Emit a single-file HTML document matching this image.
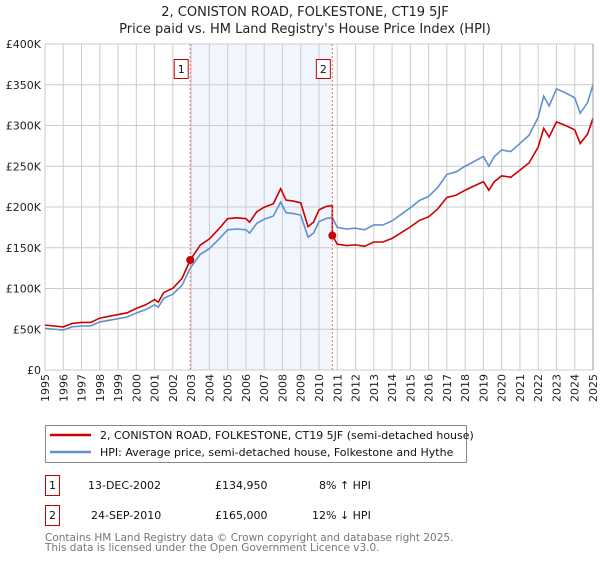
<!DOCTYPE html>
<html><head><meta charset="utf-8"><style>
body{margin:0;background:#fff;font-family:"DejaVu Sans","Liberation Sans",sans-serif;}
svg text{font-family:"DejaVu Sans","Liberation Sans",sans-serif;}
</style></head><body>
<svg id="chart" width="600" height="560" xmlns="http://www.w3.org/2000/svg">
<text x="305" y="16" text-anchor="middle" font-size="13" fill="#222">2, CONISTON ROAD, FOLKESTONE, CT19 5JF</text>
<text x="305" y="33" text-anchor="middle" font-size="13" fill="#222">Price paid vs. HM Land Registry's House Price Index (HPI)</text>
<g id="plot"></g>
<rect x="45.5" y="425.5" width="421" height="37" fill="#fff" stroke="#888"/>
<line x1="50" y1="435" x2="91" y2="435" stroke="#cc0000" stroke-width="2.5"/>
<text x="100" y="439" font-size="11" fill="#111">2, CONISTON ROAD, FOLKESTONE, CT19 5JF (semi-detached house)</text>
<line x1="50" y1="452" x2="91" y2="452" stroke="#6090d0" stroke-width="2.5"/>
<text x="100" y="456" font-size="11" fill="#111">HPI: Average price, semi-detached house, Folkestone and Hythe</text>
<g font-size="11" fill="#111">
<rect x="45.5" y="475.5" width="14" height="20" fill="#fff" stroke="#cc0000"/>
<text x="52.5" y="489" text-anchor="middle">1</text>
<text x="88" y="489">13-DEC-2002</text><text x="215" y="489">£134,950</text><text x="319" y="489">8% ↑ HPI</text></g>
<g font-size="11" fill="#111">
<rect x="45.5" y="505.5" width="14" height="20" fill="#fff" stroke="#cc0000"/>
<text x="52.5" y="519" text-anchor="middle">2</text>
<text x="91" y="519">24-SEP-2010</text><text x="215" y="519">£165,000</text><text x="312" y="519">12% ↓ HPI</text></g>
<text x="45" y="541" font-size="10.5" fill="#777">Contains HM Land Registry data © Crown copyright and database right 2025.</text>
<text x="45" y="551" font-size="10.5" fill="#777">This data is licensed under the Open Government Licence v3.0.</text>
</svg>
<script>
const hpiYears=[1995,1995.5,1996,1996.5,1997,1997.5,1998,1998.5,1999,1999.5,2000,2000.5,2001,2001.2,2001.5,2002,2002.5,2002.95,2003.5,2004,2004.5,2005,2005.5,2006,2006.2,2006.6,2007,2007.5,2007.9,2008.2,2008.6,2009,2009.4,2009.7,2010,2010.4,2010.73,2011,2011.5,2012,2012.5,2013,2013.5,2014,2014.5,2015,2015.5,2016,2016.5,2017,2017.5,2018,2018.5,2019,2019.3,2019.6,2020,2020.5,2021,2021.5,2022,2022.3,2022.6,2023,2023.5,2024,2024.3,2024.7,2025];
const hpiValues=[51000,50000,49000,53000,54000,54000,59000,61000,63000,65000,70000,74000,80000,77000,88000,93000,104000,125000,142000,149000,160000,172000,173000,172000,168000,180000,185000,189000,206000,193000,192000,190000,163000,168000,182000,186000,187000,175000,173000,174000,172000,178000,178000,183000,191000,199000,208000,213000,224000,240000,243000,250000,256000,262000,250000,262000,270000,268000,278000,288000,310000,336000,324000,345000,340000,334000,315000,328000,350000];
const saleDates=[2002.95,2010.73];
const salePrices=[134950,165000];
const yTicks=[0,50000,100000,150000,200000,250000,300000,350000,400000];
const yTickLabels=["£0","£50K","£100K","£150K","£200K","£250K","£300K","£350K","£400K"];
const xTicks=[1995,1996,1997,1998,1999,2000,2001,2002,2003,2004,2005,2006,2007,2008,2009,2010,2011,2012,2013,2014,2015,2016,2017,2018,2019,2020,2021,2022,2023,2024,2025];

const X0=45,X1=593,Y0=370,Y1=44;
const xs=t=>X0+(t-1995)/30*(X1-X0);
const ys=v=>Y0-v/400000*(Y0-Y1);
const NS="http://www.w3.org/2000/svg";
const g=document.getElementById('plot');
function mk(tag,attrs,parent){const e=document.createElementNS(NS,tag);for(const k in attrs)e.setAttribute(k,attrs[k]);(parent||g).appendChild(e);return e;}
function hpiAt(t){for(let i=1;i<hpiYears.length;i++){if(t<=hpiYears[i]){const a=hpiYears[i-1],b=hpiYears[i];const f=(t-a)/(b-a);return hpiValues[i-1]+f*(hpiValues[i]-hpiValues[i-1]);}}return hpiValues[hpiValues.length-1];}

const shade=mk('rect',{x:xs(saleDates[0]),y:Y1,width:xs(saleDates[1])-xs(saleDates[0]),height:Y0-Y1,fill:'#eef3fc',opacity:0.8});


xTicks.forEach(t=>{
 const l=mk('line',{x1:xs(t),x2:xs(t),y1:Y1,y2:Y0,stroke:'#ccc'});
 
 
 const tx=mk('text',{transform:`translate(${xs(t)+4},${Y0+4}) rotate(-90)`,'text-anchor':'end','font-size':11,fill:'#222'});
 tx.textContent=t;
 
 
});
yTicks.forEach((v,i)=>{
 const l=mk('line',{x1:X0,x2:X1,y1:ys(v),y2:ys(v),stroke:'#ccc'});
 
 
 const tx=mk('text',{x:X0-4,y:ys(v)+4,'text-anchor':'end','font-size':11,fill:'#222'});
 tx.textContent=yTickLabels[i];
 
 
});
// HPI line
const hp=mk('polyline',{points:hpiYears.map((t,i)=>xs(t)+','+ys(hpiValues[i])).join(' '),fill:'none',stroke:'#6090d0','stroke-width':1.6});


// Price line indexed to HPI from each sale
const pts=[];
const r0=salePrices[0]/hpiAt(saleDates[0]),r1=salePrices[1]/hpiAt(saleDates[1]);
hpiYears.forEach((t,i)=>{if(t<saleDates[1])pts.push([t,hpiValues[i]*r0]);});
pts.push([saleDates[1],hpiAt(saleDates[1])*r0]);
pts.push([saleDates[1],salePrices[1]]);
hpiYears.forEach((t,i)=>{if(t>saleDates[1])pts.push([t,hpiValues[i]*r1]);});
const pl=mk('polyline',{points:pts.map(p=>xs(p[0])+','+ys(p[1])).join(' '),fill:'none',stroke:'#cc0000','stroke-width':1.6});


saleDates.forEach((t,i)=>{
 const vl=mk('line',{x1:xs(t),x2:xs(t),y1:Y1,y2:Y0,stroke:'#f07070','stroke-dasharray':'2,2'});
 
 
 const b=mk('rect',{x:xs(t)-16,y:59.5,width:14,height:19,fill:'#fff',stroke:'#cc0000'});
 
 
 const bt=mk('text',{x:xs(t)-9,y:73,'text-anchor':'middle','font-size':11,fill:'#111'});
 bt.textContent=String(i+1);
 
 
 const c=mk('circle',{cx:xs(t),cy:ys(salePrices[i]),r:4,fill:'#cc0000'});
 
 
});
const ax=mk('line',{x1:X1,x2:X1,y1:Y1,y2:Y0,stroke:'#999'});


</script>
</body></html>
